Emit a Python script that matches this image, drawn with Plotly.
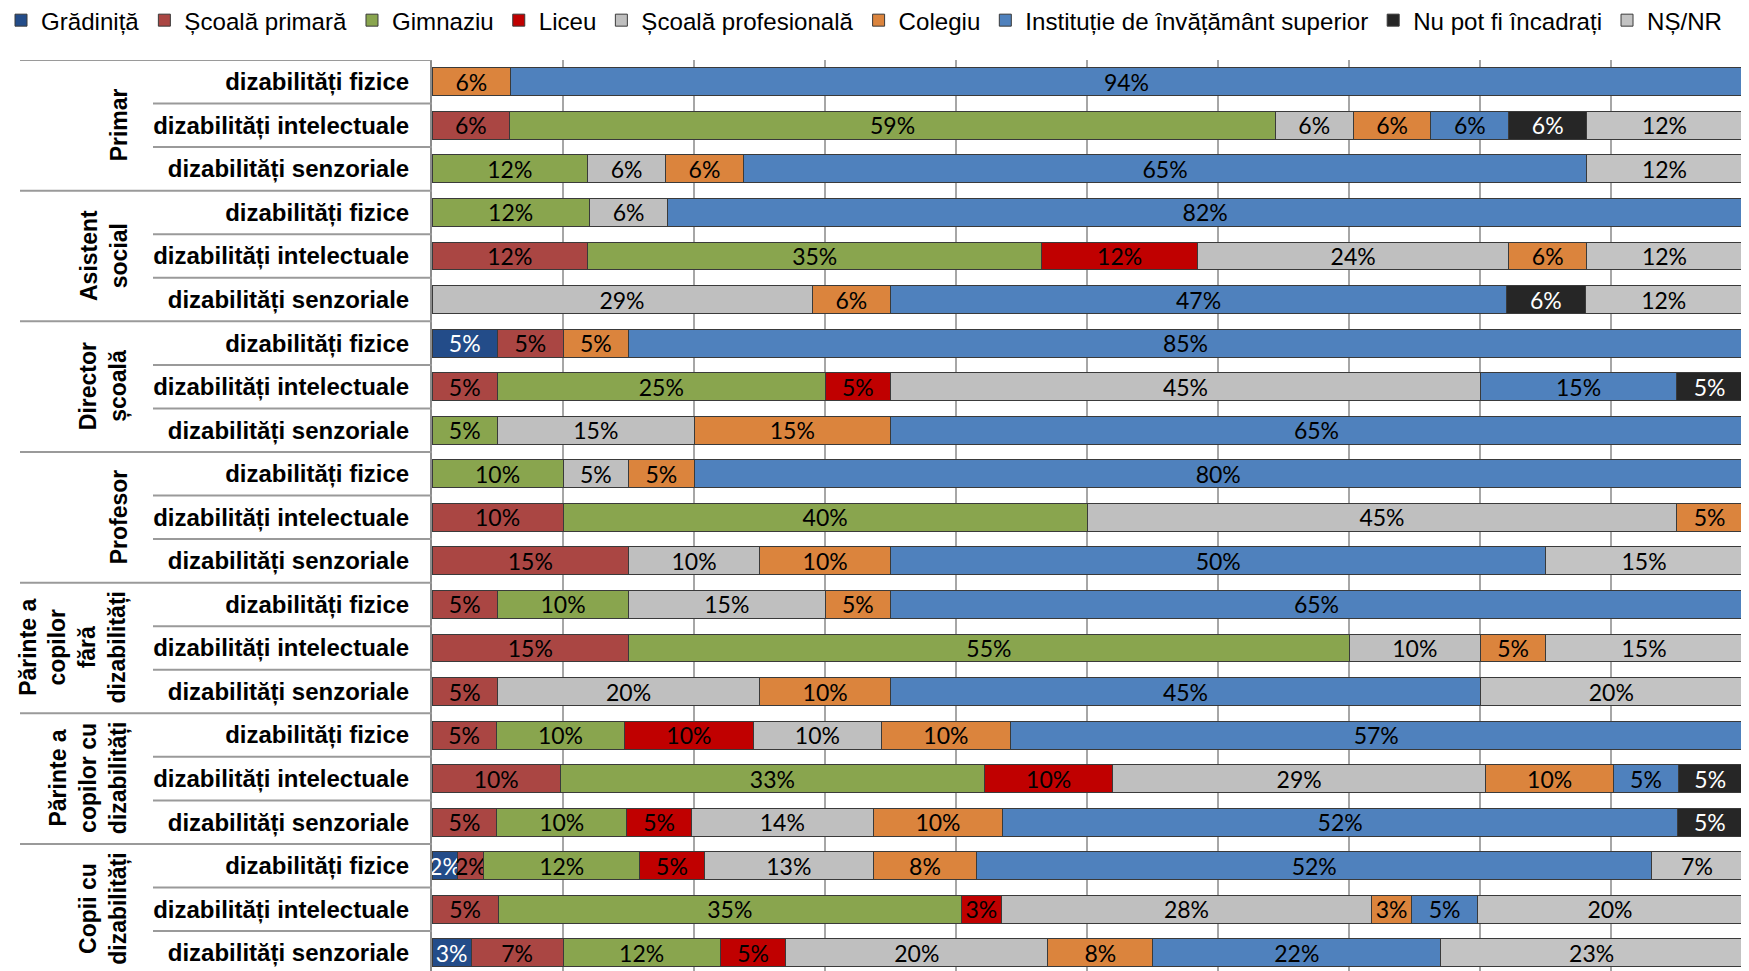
import plotly.graph_objects as go

# ---------------- data ----------------
row_labels = ["dizabilități fizice", "dizabilități intelectuale", "dizabilități senzoriale"] * 7
groups = ["Primar", "Asistent<br>social", "Director<br>școală", "Profesor",
          "Părinte a<br>copilor<br>fără<br>dizabilități",
          "Părinte a<br>copilor cu<br>dizabilități", "Copii cu<br>dizabilități"]

series_names = ["Grădiniță", "Școală primară", "Gimnaziu", "Liceu", "Școală profesională",
                "Colegiu", "Instituție de învățământ superior", "Nu pot fi încadrați", "NȘ/NR"]

gradinita     = [0, 0, 0,  0, 0, 0,   5, 0, 0,   0, 0, 0,   0, 0, 0,   0, 0, 0,   2, 0, 3]
scoala_prim   = [0, 6, 0,  0, 12, 0,  5, 5, 0,   0, 10, 15, 5, 15, 5,  5, 10, 5,  2, 5, 7]
gimnaziu      = [0, 59, 12, 12, 35, 0, 0, 25, 5, 10, 40, 0, 10, 55, 0, 10, 33, 10, 12, 35, 12]
liceu         = [0, 0, 0,  0, 12, 0,  0, 5, 0,   0, 0, 0,   0, 0, 0,   10, 10, 5, 5, 3, 5]
profesionala  = [0, 6, 6,  6, 24, 29, 0, 45, 15, 5, 45, 10, 15, 10, 20, 10, 29, 14, 13, 28, 20]
colegiu       = [6, 6, 6,  0, 6, 6,   5, 0, 15,  5, 5, 10,  5, 5, 10,  10, 10, 10, 8, 3, 8]
superior      = [94, 6, 65, 82, 0, 47, 85, 15, 65, 80, 0, 50, 65, 0, 45, 57, 5, 52, 52, 5, 22]
nu_pot        = [0, 6, 0,  0, 0, 6,   0, 5, 0,   0, 0, 0,   0, 0, 0,   0, 5, 5,   0, 0, 0]
ns_nr         = [0, 12, 12, 0, 12, 12, 0, 0, 0,  0, 0, 15,  0, 15, 20, 0, 0, 0,   7, 20, 23]

series_values = [gradinita, scoala_prim, gimnaziu, liceu, profesionala,
                 colegiu, superior, nu_pot, ns_nr]
colors = ["#234C89", "#AA4643", "#89A54E", "#C00000", "#BFBFBF",
          "#DB843D", "#4F81BD", "#262626", "#C3C3C3"]
text_colors = ["white", "black", "black", "black", "black", "black", "black", "white", "black"]

# ---------------- figure ----------------
W, H = 1749, 971
L, R, T, B = 424, 14, 52, 0
plot_w = W - L - R
plot_h = H - T - B

fig = go.Figure()
rows = list(range(len(row_labels)))
for name, vals, col, tcol in zip(series_names, series_values, colors, text_colors):
    xv = [v if v else None for v in vals]
    fig.add_trace(go.Bar(
        y=rows, x=xv, name=name, orientation="h",
        marker=dict(color=col, line=dict(color="#3A3A3A", width=1)),
        text=[f"{v}%" if v else "" for v in vals],
        textposition="inside", insidetextanchor="middle", textangle=0,
        constraintext="none",
        textfont=dict(family="Lato, Open Sans, sans-serif", size=23, color=tcol),
        width=0.64, hoverinfo="skip",
    ))


def px_to_paper(px):
    return (px - L) / plot_w


fig.update_layout(
    width=W, height=H,
    margin=dict(l=L, r=R, t=T, b=B, pad=0, autoexpand=False),
    barmode="stack", barnorm="percent",
    plot_bgcolor="white", paper_bgcolor="white",
    font=dict(family="Liberation Sans, Arial, sans-serif", size=24, color="black"),
    legend=dict(orientation="h", xref="paper", yref="paper",
                x=px_to_paper(-7), y=1 + (T + 10) / plot_h, xanchor="left", yanchor="top",
                font=dict(family="Liberation Sans, Arial, sans-serif", size=24.1, color="black"),
                itemwidth=30, traceorder="normal", bgcolor="rgba(0,0,0,0)"),
    showlegend=True,
)

fig.update_xaxes(range=[0, 100.05], dtick=10, showgrid=True, gridcolor="#A6A6A6", gridwidth=2,
                 showticklabels=False, zeroline=False, showline=False, ticks="")
fig.update_yaxes(range=[20.60, -0.5], tickmode="array", tickvals=rows,
                 ticktext=[f"<b>{t}</b>" for t in row_labels],
                 tickfont=dict(family="Liberation Sans, Arial, sans-serif", size=24, color="black"),
                 ticklabelstandoff=16, ticks="", showgrid=False, zeroline=False,
                 showline=True, linecolor="#8C8C8C", linewidth=2)

# table-like separators on the left
line_col = "#9A9A9A"
for k in range(len(row_labels)):
    yb = k - 0.5
    start = 12 if k % 3 == 0 else 145
    fig.add_shape(type="line", xref="paper", yref="y",
                  x0=px_to_paper(start), x1=0, y0=yb, y1=yb,
                  line=dict(color=line_col, width=2))

# group labels
for g, name in enumerate(groups):
    fig.add_annotation(text=f"<b>{name}</b>", xref="paper", yref="y",
                       x=px_to_paper(126), y=g * 3 + 1, xanchor="right", yanchor="middle",
                       textangle=-90, showarrow=False, align="center",
                       font=dict(family="Liberation Sans, Arial, sans-serif", size=23, color="black"))

fig.write_html("out.html")
